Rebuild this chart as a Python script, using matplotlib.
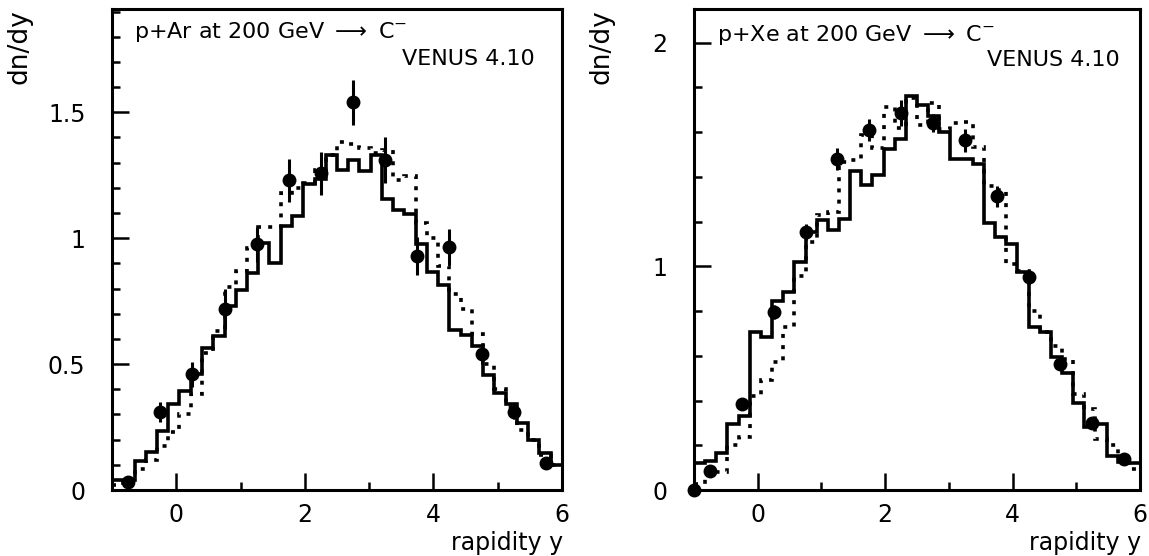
import numpy as np
import matplotlib
matplotlib.use("Agg")
import matplotlib.pyplot as plt
from matplotlib.ticker import MultipleLocator, FuncFormatter

# ---------------- data ----------------
# histogram binning (rapidity)
y_low, y_high, n_bins = -1.0, 6.0, 40

# p+Ar : VENUS 4.10 model histograms (solid, dotted)
ar_solid = [0.04, 0.04, 0.115, 0.15, 0.235, 0.34, 0.395, 0.46, 0.565, 0.61,
            0.73, 0.795, 0.86, 0.98, 0.90, 1.05, 1.09, 1.215, 1.235, 1.33,
            1.27, 1.31, 1.265, 1.33, 1.155, 1.11, 1.095, 0.975, 0.865, 0.815,
            0.635, 0.615, 0.57, 0.455, 0.385, 0.34, 0.265, 0.2, 0.148, 0.1]
ar_dotted = [0.02, 0.045, 0.085, 0.12, 0.175, 0.23, 0.30, 0.38, 0.545, 0.63,
             0.805, 0.87, 0.96, 1.045, 1.045, 1.18, 1.2, 1.22, 1.27, 1.33,
             1.38, 1.375, 1.36, 1.34, 1.35, 1.23, 1.245, 1.06, 1.0, 0.89,
             0.78, 0.72, 0.62, 0.50, 0.40, 0.33, 0.24, 0.2, 0.14, 0.1]
# p+Ar : measured points
ar_x = [-0.75, -0.25, 0.25, 0.75, 1.25, 1.75, 2.25, 2.75, 3.25, 3.75, 4.25, 4.75, 5.25, 5.75]
ar_y = [0.03, 0.31, 0.46, 0.72, 0.975, 1.23, 1.257, 1.54, 1.31, 0.93, 0.965, 0.54, 0.31, 0.106]
ar_err = [0.02, 0.04, 0.05, 0.08, 0.07, 0.085, 0.085, 0.09, 0.09, 0.075, 0.07, 0.04, 0.03, 0.02]

# p+Xe : VENUS 4.10 model histograms (solid, dotted)
xe_solid = [0.12, 0.13, 0.167, 0.295, 0.333, 0.707, 0.685, 0.843, 0.884, 1.018,
            1.155, 1.205, 1.16, 1.213, 1.425, 1.362, 1.407, 1.525, 1.57, 1.76,
            1.72, 1.67, 1.6, 1.48, 1.48, 1.455, 1.195, 1.13, 1.1, 0.975,
            0.73, 0.705, 0.593, 0.525, 0.39, 0.28, 0.295, 0.15, 0.125, 0.122]
xe_dotted = [0.025, 0.075, 0.08, 0.2, 0.235, 0.42, 0.49, 0.57, 0.73, 0.955,
             1.11, 1.227, 1.242, 1.465, 1.473, 1.585, 1.53, 1.712, 1.62, 1.75,
             1.63, 1.73, 1.615, 1.64, 1.645, 1.533, 1.36, 1.34, 1.01, 0.98,
             0.8, 0.705, 0.645, 0.585, 0.43, 0.36, 0.23, 0.2, 0.14, 0.095]
# p+Xe : measured points
xe_x = [-1.0, -0.75, -0.25, 0.25, 0.75, 1.25, 1.75, 2.25, 2.75, 3.25, 3.75, 4.25, 4.75, 5.25, 5.75]
xe_y = [0.0, 0.083, 0.384, 0.795, 1.152, 1.48, 1.61, 1.685, 1.642, 1.563, 1.312, 0.952, 0.565, 0.30, 0.138]
xe_err = [0.01, 0.02, 0.025, 0.03, 0.035, 0.05, 0.05, 0.06, 0.04, 0.05, 0.045, 0.03, 0.025, 0.02, 0.02]

ar_title = "p+Ar at 200 GeV $\\longrightarrow$ C$^{-}$"
xe_title = "p+Xe at 200 GeV $\\longrightarrow$ C$^{-}$"
model_label = "VENUS 4.10"
ylabel = "dn/dy"
xlabel = "rapidity y"

# ---------------- figure ----------------
W, H = 1149, 556
fig = plt.figure(figsize=(W / 100, H / 100), dpi=100)
plt.rcParams['font.family'] = ['DejaVu Sans']
plt.rcParams['mathtext.fontset'] = 'dejavusans'

edges = np.linspace(y_low, y_high, n_bins + 1)

def px_ax(x0, x1, top, bottom):
    return [x0 / W, (H - bottom) / H, (x1 - x0) / W, (bottom - top) / H]

panels = [
    dict(rect=px_ax(112, 562, 9, 490), ymax=1.91, major=0.5, minor=0.1,
         solid=ar_solid, dotted=ar_dotted, x=ar_x, y=ar_y, e=ar_err,
         title=ar_title, title_xy=(0.05, 0.952), venus_xy=(0.94, 0.897),
         ylab_x=19, rlab_x=563),
    dict(rect=px_ax(694, 1140, 9, 490), ymax=2.15, major=1.0, minor=0.2,
         solid=xe_solid, dotted=xe_dotted, x=xe_x, y=xe_y, e=xe_err,
         title=xe_title, title_xy=(0.052, 0.946), venus_xy=(0.955, 0.894),
         ylab_x=601, rlab_x=1141),
]

fmt = FuncFormatter(lambda v, p: f"{v:g}")

for P in panels:
    ax = fig.add_axes(P["rect"])
    ax.set_xlim(y_low, y_high)
    ax.set_ylim(0, P["ymax"])

    ax.stairs(P["solid"], edges, baseline=None, color="black", lw=2.6)
    ax.stairs(P["dotted"], edges, baseline=None, color="black", lw=2.6,
              linestyle=(0, (1.1, 2.0)))
    ax.errorbar(P["x"], P["y"], yerr=P["e"], fmt="o", color="black",
                ms=9, elinewidth=2.2, capsize=0, clip_on=False, zorder=5)

    for s in ax.spines.values():
        s.set_linewidth(2.2)

    ax.xaxis.set_major_locator(MultipleLocator(2))
    ax.xaxis.set_minor_locator(MultipleLocator(1))
    ax.yaxis.set_major_locator(MultipleLocator(P["major"]))
    ax.yaxis.set_minor_locator(MultipleLocator(P["minor"]))
    ax.xaxis.set_major_formatter(fmt)
    ax.yaxis.set_major_formatter(fmt)
    ax.tick_params(which="both", direction="in", top=False, right=False, width=1.8)
    ax.tick_params(which="major", length=12.5)
    ax.tick_params(which="minor", length=6)
    ax.tick_params(axis="x", which="major", labelsize=17, pad=9)
    ax.tick_params(axis="y", which="major", labelsize=17, pad=19)

    ax.text(*P["title_xy"], P["title"], transform=ax.transAxes,
            ha="left", va="center", fontsize=16)
    ax.text(*P["venus_xy"], model_label, transform=ax.transAxes,
            ha="right", va="center", fontsize=16)

    fig.text(P["ylab_x"] / W, 1 - 9 / H, ylabel, rotation=90,
             ha="center", va="top", fontsize=19)
    fig.text(P["rlab_x"] / W, 1 - 543 / H, xlabel, ha="right", va="center",
             fontsize=17)

fig.savefig("out.png", dpi=100)
